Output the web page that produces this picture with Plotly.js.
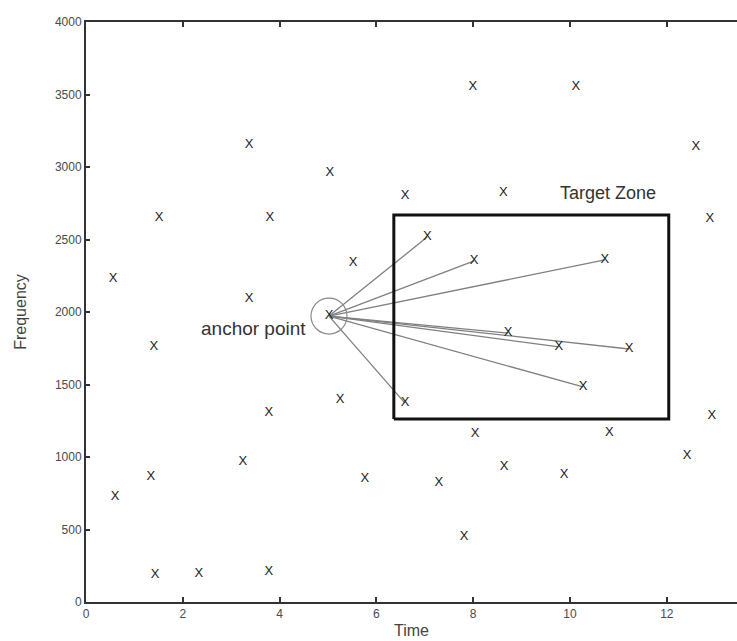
<!DOCTYPE html>
<html>
<head>
<meta charset="utf-8">
<script src="https://cdn.plot.ly/plotly-3.0.1.min.js"></script>
<style>html,body{margin:0;padding:0;background:#fff;}#chart{width:737px;height:641px;}</style>
</head>
<body>
<div id="chart"></div>
<script>
// Data points (Time, Frequency)
const pointTime = [0.56,0.60,1.51,1.40,1.34,1.43,2.33,3.37,3.37,3.24,3.80,3.78,3.78,5.04,5.52,5.25,5.76,6.59,6.59,7.05,7.29,7.81,7.99,8.02,8.04,8.62,8.72,8.64,9.77,9.88,10.12,10.72,10.81,10.27,11.22,12.42,12.60,12.89,12.93];
const pointFreq = [2228,724,2648,1759,862,186,193,3152,2090,966,2648,1303,207,2959,2338,1393,848,2800,1372,2517,821,448,3552,2352,1159,2821,1855,931,1759,876,3552,2359,1166,1483,1745,1007,3138,2641,1283];
// Anchor point
const anchorTime = 5.02;
const anchorFreq = 1972;
// Points in target zone linked to the anchor
const targetTime = [7.05,8.02,10.72,8.72,9.77,11.22,10.27,6.59];
const targetFreq = [2517,2352,2359,1855,1759,1745,1483,1372];
// Target zone bounds
const zoneTime = [6.36,12.04];
const zoneFreq = [1262,2669];
// Axis ticks
const xTicks = [0,2,4,6,8,10,12];
const yTicks = [0,500,1000,1500,2000,2500,3000,3500,4000];

const labelFont = "Liberation Sans Narrow, Arial Narrow, Liberation Sans, Arial, sans-serif";

// Link lines
const lx = [], ly = [];
for (let i = 0; i < targetTime.length; i++) {
  lx.push(anchorTime, targetTime[i], null);
  ly.push(anchorFreq, targetFreq[i], null);
}

const traces = [
  {
    x: lx, y: ly, mode: 'lines', type: 'scatter',
    line: {color: '#808080', width: 1.3}, hoverinfo: 'skip'
  },
  {
    x: [zoneTime[0], zoneTime[1], zoneTime[1], zoneTime[0], zoneTime[0]],
    y: [zoneFreq[0], zoneFreq[0], zoneFreq[1], zoneFreq[1], zoneFreq[0]],
    mode: 'lines', type: 'scatter',
    line: {color: '#111', width: 3}, hoverinfo: 'skip'
  },
  {
    x: [anchorTime], y: [anchorFreq], mode: 'markers', type: 'scatter',
    marker: {symbol: 'circle-open', size: 36, color: '#8a8a8a', line: {width: 1.2, color: '#8a8a8a'}},
    hoverinfo: 'skip'
  },
  {
    x: pointTime.concat([anchorTime]), y: pointFreq.concat([anchorFreq]),
    mode: 'text', type: 'scatter',
    text: pointTime.concat([anchorTime]).map(() => 'X'),
    textposition: 'middle center',
    textfont: {family: labelFont, size: 13, color: '#222'}
  }
];

const layout = {
  width: 737, height: 641,
  margin: {l: 86, r: 0, t: 22, b: 39},
  paper_bgcolor: '#fff', plot_bgcolor: '#fff',
  showlegend: false,
  xaxis: {
    range: [0, 13.45], tickvals: xTicks, ticktext: xTicks.map(String),
    showgrid: false, zeroline: false,
    showline: true, linecolor: '#333', linewidth: 2, mirror: 'allticks',
    ticks: 'inside', ticklen: 5, tickwidth: 2, tickcolor: '#333',
    tickfont: {family: labelFont, size: 12, color: '#4a4a4a'},
    title: {text: 'Time', font: {family: labelFont, size: 16, color: '#444'}, standoff: 4}
  },
  yaxis: {
    range: [0, 4000], tickvals: yTicks, ticktext: yTicks.map(String),
    showgrid: false, zeroline: false,
    showline: true, linecolor: '#333', linewidth: 2, mirror: false,
    ticks: 'inside', ticklen: 4, tickwidth: 2, tickcolor: '#333',
    tickfont: {family: labelFont, size: 12, color: '#4a4a4a'},
    title: {text: 'Frequency', font: {family: labelFont, size: 16, color: '#444'}, standoff: 24}
  },
  annotations: [
    {x: 3.47, y: 1883, xref: 'x', yref: 'y', text: 'anchor point', showarrow: false,
     font: {family: labelFont, size: 19, color: '#333'}},
    {x: 10.79, y: 2821, xref: 'x', yref: 'y', text: 'Target Zone', showarrow: false,
     font: {family: labelFont, size: 18, color: '#333'}}
  ]
};

Plotly.newPlot('chart', traces, layout, {displayModeBar: false, staticPlot: true});
</script>
</body>
</html>
